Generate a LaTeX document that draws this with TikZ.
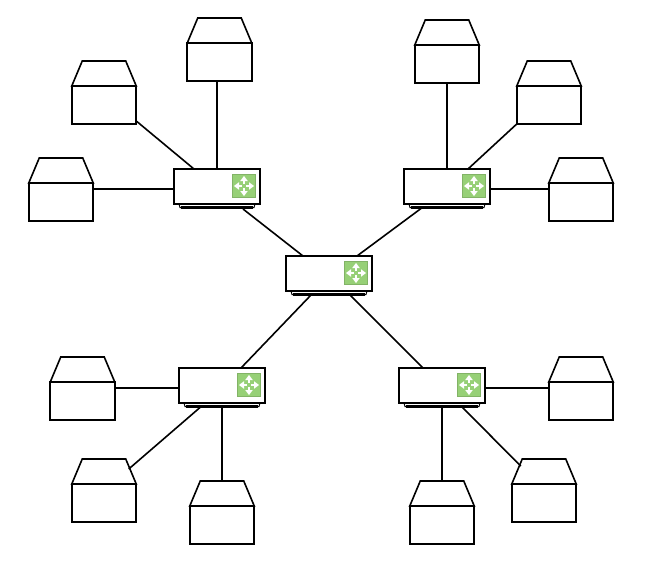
\documentclass[tikz,border=0pt]{standalone}
\definecolor{iconfill}{HTML}{97D077}
\definecolor{iconline}{HTML}{82B366}
\tikzset{
  wire/.style={line width=1.6pt,black},
  housebody/.style={draw=black,line width=1.6pt,fill=white,minimum width=64.5pt,minimum height=38pt,inner sep=0pt,outer sep=0pt,anchor=center},
  roofline/.style={draw=black,line width=1.6pt,fill=white,line join=miter},
  routerbody/.style={draw=black,line width=1.6pt,fill=white,minimum width=86pt,minimum height=35pt,inner sep=0pt,outer sep=0pt,anchor=center},
  routerbase/.style={draw=black,line width=1pt,fill=white},
  iconbox/.style={draw=iconline,line width=1.2pt,fill=iconfill,minimum size=23pt,inner sep=0pt,outer sep=0pt,anchor=center},
  iconarrow/.style={white,line width=1.8pt},
  iconhead/.style={fill=white,draw=none}
}
\newcommand{\house}[3]{% name, body centre x, body centre y
  \node[housebody] (#1) at (#2,#3) {};
  \draw[roofline] (#1.north west) -- ++(10.5,-25) -- ++(43.5,0) -- (#1.north east) -- cycle;
}
\newcommand{\router}[3]{% name, centre x, centre y
  \draw[routerbase] (#2-38,#3+17.5) -- (#2-37,#3+21) -- (#2+37,#3+21) -- (#2+38,#3+17.5);
  \draw[line width=2.4pt,black] (#2-36,#3+21) -- (#2+36,#3+21);
  \node[routerbody] (#1) at (#2,#3) {};
  \node[iconbox] (#1i) at (#2+27,#3-0.5) {};
  \foreach \a in {0,90,180,270} {
    \begin{scope}[shift={(#2+27,#3-0.5)},rotate=\a]
      \draw[iconarrow] (2,0) -- (6,0);
      \fill[iconhead] (5,-3.8) -- (10,0) -- (5,3.8) -- cycle;
    \end{scope}
  }
}
\begin{document}
\begin{tikzpicture}[x=1pt,y=-1pt]
\useasboundingbox (0,0) rectangle (650,568);
\fill[white] (0,0) rectangle (650,568);

\router{rc}{329}{273.5}
\router{rtl}{217}{186.5}
\router{rtr}{447}{186.5}
\router{rbl}{222}{385.5}
\router{rbr}{442}{385.5}

\house{ha}{219.5}{62}
\house{hb}{104}{105}
\house{hc}{61}{202}
\house{hd}{447}{64}
\house{he}{549}{105}
\house{hf}{581}{202}
\house{hg}{82.5}{401}
\house{hh}{104}{503}
\house{hi}{222}{525}
\house{hj}{442}{525}
\house{hk}{544}{503}
\house{hl}{581}{401}

% router to router
\draw[wire] ([shift={(26,22.5)}]rtl.center) -- ([shift={(-26,-17.5)}]rc.center);
\draw[wire] ([shift={(-26,22)}]rtr.center) -- ([shift={(28,-17.5)}]rc.center);
\draw[wire] ([shift={(19,-17.5)}]rbl.center) -- ([shift={(-18,21.5)}]rc.center);
\draw[wire] ([shift={(-19,-17.5)}]rbr.center) -- ([shift={(21,21.5)}]rc.center);

% houses to routers
\draw[wire] ([shift={(-2.5,0)}]ha.south) -- (rtl.north);
\draw[wire] ([shift={(0,-3)}]hb.south east) -- ([shift={(-23,0)}]rtl.north);
\draw[wire] ([shift={(0,6)}]hc.north east) -- ([shift={(0,2.5)}]rtl.west);
\draw[wire] (hd.south) -- (rtr.north);
\draw[wire] (he.south west) -- ([shift={(21,0)}]rtr.north);
\draw[wire] ([shift={(0,6)}]hf.north west) -- ([shift={(0,2.5)}]rtr.east);
\draw[wire] ([shift={(0,6)}]hg.north east) -- ([shift={(0,2.5)}]rbl.west);
\draw[wire] ([shift={(-7.5,-15)}]hh.north east) -- ([shift={(-22,22)}]rbl.center);
\draw[wire] (hi.north) ++(0,-25) -- ([shift={(0,21.5)}]rbl.center);
\draw[wire] (hj.north) ++(0,-25) -- ([shift={(0,21.5)}]rbr.center);
\draw[wire] ([shift={(9,-18)}]hk.north west) -- ([shift={(20,21.5)}]rbr.center);
\draw[wire] ([shift={(0,6)}]hl.north west) -- ([shift={(0,2.5)}]rbr.east);
\end{tikzpicture}
\end{document}
